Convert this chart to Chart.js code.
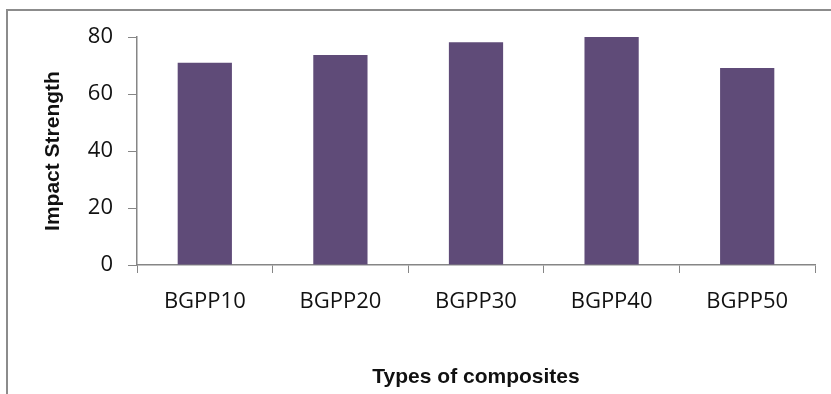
<!DOCTYPE html>
<html>
<head>
<meta charset="utf-8">
<script src="https://cdn.jsdelivr.net/npm/chart.js@4"></script>
<style>
  html, body { margin: 0; padding: 0; background: #fff; }
  #wrap { width: 831px; height: 394px; }
</style>
</head>
<body>
<div id="wrap"><canvas id="impactChart" width="831" height="394"></canvas></div>
<script>
// Data
const categories = ['BGPP10', 'BGPP20', 'BGPP30', 'BGPP40', 'BGPP50'];
const impactStrength = [71, 73.7, 78.2, 80, 69.1];
const yTickValues = [0, 20, 40, 60, 80];
const xTitle = 'Types of composites';
const yTitle = 'Impact Strength';

const axisGray = '#868686';
const barColor = '#5f4b78';

// grey frame at top and left (picture is cropped on the other sides)
const framePlugin = {
    id: 'frame',
    beforeDraw(chart) {
        const ctx = chart.ctx;
        ctx.save();
        ctx.strokeStyle = '#8c8c8c';
        ctx.lineWidth = 2;
        ctx.beginPath();
        ctx.moveTo(7, chart.height);
        ctx.lineTo(7, 10);
        ctx.lineTo(chart.width, 10);
        ctx.stroke();
        ctx.restore();
    }
};

new Chart(document.getElementById('impactChart'), {
    type: 'bar',
    data: {
        labels: categories,
        datasets: [{
            label: yTitle,
            data: impactStrength,
            backgroundColor: barColor,
            borderWidth: 0,
            barPercentage: 0.4,
            categoryPercentage: 1.0
        }]
    },
    options: {
        responsive: false,
        animation: false,
        layout: { padding: { top: 37, right: 16, bottom: 0, left: 0 } },
        plugins: {
            legend: { display: false },
            tooltip: { enabled: false }
        },
        scales: {
            x: {
                grid: { display: true, drawOnChartArea: false, offset: true, tickLength: 8, color: axisGray },
                border: { display: true, color: axisGray, width: 1.5 },
                ticks: { color: '#111', font: { family: 'Open Sans', size: 22 }, padding: 16, maxRotation: 0 },
                title: {
                    display: true, text: xTitle, color: '#111',
                    font: { family: 'Liberation Sans', size: 21, weight: 'bold' },
                    padding: { top: 0, bottom: 4 }
                },
                afterFit(scale) { scale.height = 129; }
            },
            y: {
                min: 0,
                max: 80,
                afterBuildTicks(scale) { scale.ticks = yTickValues.map(v => ({ value: v })); },
                grid: { display: true, drawOnChartArea: false, tickLength: 9, color: axisGray },
                border: { display: true, color: axisGray, width: 1.5 },
                ticks: { color: '#111', font: { family: 'Open Sans', size: 22 }, padding: 15 },
                title: {
                    display: true, text: yTitle, color: '#111',
                    font: { family: 'Liberation Sans', size: 21, weight: 'bold' },
                    padding: { top: 41, bottom: 0 }
                },
                afterFit(scale) { scale.width = 137; }
            }
        }
    },
    plugins: [framePlugin]
});
</script>
</body>
</html>
